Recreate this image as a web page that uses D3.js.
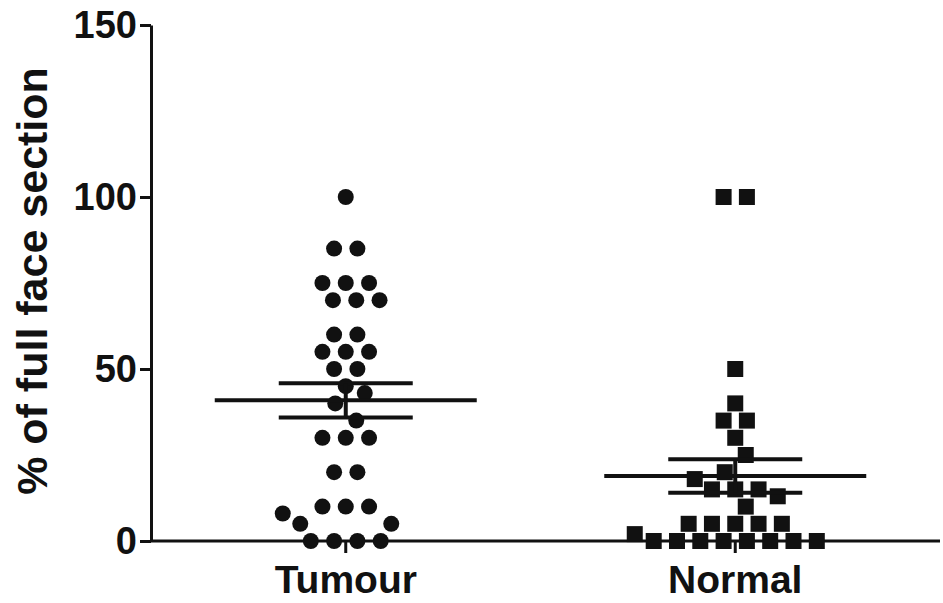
<!DOCTYPE html>
<html><head><meta charset="utf-8">
<script src="https://cdn.jsdelivr.net/npm/d3@7"></script>
<style>body{margin:0;background:#fff}</style></head>
<body><svg id="chart" width="943" height="603"></svg>
<script>
const categories = ["Tumour", "Normal"];
const tumourValues = [100,85,85,75,75,75,70,70,70,60,60,55,55,55,50,50,45,43,40,35,30,30,30,20,20,10,10,10,8,5,5,0,0,0,0];
const normalValues = [100,100,50,40,35,35,30,25,20,18,15,15,15,13,10,5,5,5,5,5,2,0,0,0,0,0,0,0,0];
const yTicks = [0, 50, 100, 150];
const yLabel = "% of full face section";

const svg = d3.select("#chart");
const font = "'Liberation Sans', Arial, Helvetica, sans-serif";
const ink = "#111";

const y = d3.scaleLinear().domain([0, 150]).range([541, 25]);
const x = d3.scaleBand().domain(categories).range([151, 930]).padding(0);

// beeswarm layout: big groups of equal values first, spread symmetrically;
// if a group cannot fit symmetrically, its points are placed one by one at the nearest free spot
function swarm(values, spacing, minDist) {
  const placed = [];
  const free = (px, py) => placed.every(p => Math.hypot(p.dx - px, p.y - py) >= minDist);
  const groups = d3.groups(values, v => v)
    .sort((a, b) => (b[1].length - a[1].length) || (b[0] - a[0]));
  for (const [v, arr] of groups) {
    const n = arr.length, py = y(v);
    let done = false;
    for (let s = 0; s <= 2 * spacing * 2; s++) {
      const c = s === 0 ? 0 : (s % 2 ? Math.ceil(s / 2) : -s / 2) * 0.5;
      const xs = arr.map((_, i) => c + (i - (n - 1) / 2) * spacing);
      if (xs.every(px => free(px, py))) { xs.forEach(px => placed.push({v, dx: px, y: py})); done = true; break; }
    }
    if (!done) {
      arr.forEach((_, i) => {
        for (let s = 0; s < 800; s++) {
          const c = s === 0 ? 0 : (s % 2 ? Math.ceil(s / 2) : -s / 2) * 0.5 * (i % 2 ? 1 : -1);
          if (free(c, py)) { placed.push({v, dx: c, y: py}); break; }
        }
      });
    }
  }
  return placed;
}

const series = [
  {name: "Tumour", values: tumourValues, shape: "circle"},
  {name: "Normal", values: normalValues, shape: "square"}
];

// Y axis
const yAxis = svg.append("g").attr("transform", "translate(151,0)")
  .call(d3.axisLeft(y).tickValues(yTicks).tickSize(11).tickSizeOuter(0).tickPadding(3));
yAxis.select(".domain").attr("stroke", ink).attr("stroke-width", 3);
yAxis.selectAll(".tick line").attr("stroke", ink).attr("stroke-width", 3);
yAxis.selectAll(".tick text").attr("font-family", font).attr("font-size", 38)
  .attr("font-weight", "bold").attr("fill", ink);

// X axis
svg.append("line").attr("x1", 151).attr("x2", 940).attr("y1", y(0)).attr("y2", y(0))
  .attr("stroke", ink).attr("stroke-width", 3);
const xAxis = svg.append("g").attr("transform", `translate(0,${y(0)})`)
  .call(d3.axisBottom(x).tickSize(12).tickSizeOuter(0).tickPadding(12));
xAxis.select(".domain").remove();
xAxis.selectAll(".tick line").attr("stroke", ink).attr("stroke-width", 3);
xAxis.selectAll(".tick text").attr("font-family", font).attr("font-size", 39)
  .attr("font-weight", "bold").attr("fill", ink);

// Y label
svg.append("text").attr("transform", "translate(47,281) rotate(-90)")
  .attr("text-anchor", "middle").attr("font-family", font).attr("font-size", 43)
  .attr("font-weight", "bold").attr("fill", ink).text(yLabel);

// points
for (const s of series) {
  const cx = x(s.name) + x.bandwidth() / 2;
  const pts = swarm(s.values, 23.3, 20);
  const g = svg.append("g");
  if (s.shape === "circle") {
    g.selectAll("circle").data(pts).join("circle")
      .attr("cx", d => cx + d.dx).attr("cy", d => d.y).attr("r", 8).attr("fill", ink);
  } else {
    g.selectAll("rect").data(pts).join("rect")
      .attr("x", d => cx + d.dx - 8).attr("y", d => d.y - 8)
      .attr("width", 16).attr("height", 16).attr("fill", ink);
  }
  // mean and SEM
  const m = d3.mean(s.values);
  const sem = d3.deviation(s.values) / Math.sqrt(s.values.length);
  const lg = svg.append("g").attr("stroke", ink).attr("stroke-width", 4);
  lg.append("line").attr("x1", cx - 131).attr("x2", cx + 131).attr("y1", y(m)).attr("y2", y(m));
  lg.append("line").attr("x1", cx - 67).attr("x2", cx + 67).attr("y1", y(m + sem)).attr("y2", y(m + sem));
  lg.append("line").attr("x1", cx - 67).attr("x2", cx + 67).attr("y1", y(m - sem)).attr("y2", y(m - sem));
  lg.append("line").attr("x1", cx).attr("x2", cx).attr("y1", y(m + sem)).attr("y2", y(m - sem));
}
</script></body></html>
